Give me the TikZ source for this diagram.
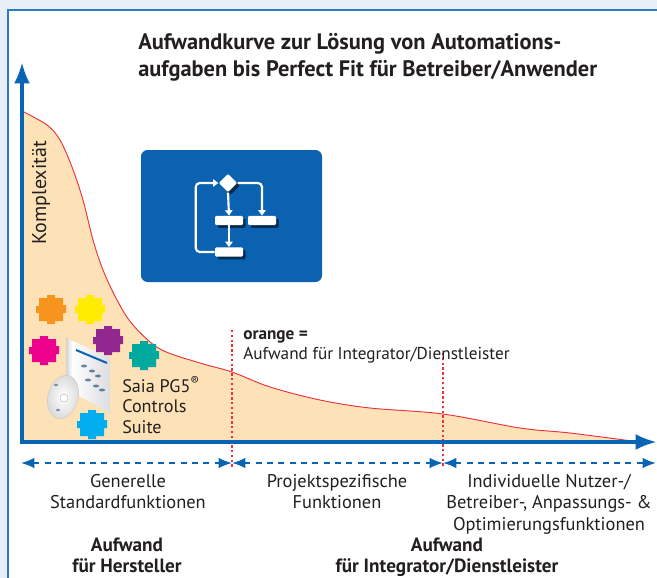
\documentclass[tikz,border=0pt]{standalone}
\usepackage{fontspec}
\setmainfont{PT Sans}
\usepackage{xcolor}
\usetikzlibrary{arrows.meta,positioning,shapes.geometric,calc,shadows}
\definecolor{axisblue}{HTML}{0A64B4}
\definecolor{frameblue}{HTML}{2C7AC6}
\definecolor{paleblue}{HTML}{E7EFF8}
\definecolor{effort}{HTML}{FDE2B8}
\definecolor{curvered}{HTML}{E8323C}
\definecolor{textgrey}{HTML}{231F20}
\definecolor{tileblue}{HTML}{0B62B0}
\definecolor{pzorange}{HTML}{F7941D}
\definecolor{pzyellow}{HTML}{FFEC00}
\definecolor{pzmagenta}{HTML}{EC008C}
\definecolor{pzpurple}{HTML}{92278F}
\definecolor{pzteal}{HTML}{00A99D}
\definecolor{pzcyan}{HTML}{00AEEF}
\tikzset{
akaxis/.style={axisblue,line width=3pt,{Latex[length=16pt,width=12pt]}-{Latex[length=16pt,width=12pt]}},
akspan/.style={axisblue,line width=1.5pt,dash pattern=on 4.5pt off 4pt,{Latex[length=10pt,width=8pt]}-{Latex[length=10pt,width=8pt]}},
akdiv/.style={curvered,line width=0.8pt,dash pattern=on 1.8pt off 1.8pt},
aktext/.style={text=textgrey,inner sep=0pt,align=center,font=\fontsize{13.8}{16.2}\selectfont},
akbold/.style={aktext,font=\fontsize{14.4}{15.4}\selectfont\bfseries},
akstep/.style={rectangle,fill=white,rounded corners=1pt,minimum width=21pt,minimum height=7pt,inner sep=0pt,
  drop shadow={shadow xshift=2pt,shadow yshift=-2pt,opacity=.55,fill=black}},
akdecide/.style={diamond,fill=white,rounded corners=1pt,minimum size=14pt,inner sep=0pt,
  drop shadow={shadow xshift=2pt,shadow yshift=-2pt,opacity=.55,fill=black}},
akflow/.style={white,line width=1.6pt,-{Triangle[length=4pt,width=5.5pt]}},
pics/puzzle/.style={code={
  \fill[#1] (-12,-11) rectangle (12,12)
    (-4,-11) rectangle (4,-14)
    (12,-4) rectangle (15,4)
    (-15,-3) rectangle (-12,4)
    (-4,12) rectangle (4,15);
}}
}
\begin{document}
\begin{tikzpicture}[x=0.75pt,y=-0.75pt]
\useasboundingbox (0,0) rectangle (657,578);
% page and panel
\fill[paleblue] (0,0) rectangle (657,578);
\filldraw[fill=white,draw=frameblue,line width=1.2pt] (8,10) rectangle (680,600);
% effort area under the curve
\fill[effort] (22,442) -- plot[smooth,tension=0.55] coordinates {(22,111) (47,125) (60,140) (72,167) (83,200) (93,240) (103,270) (117,300) (133,325) (160,349) (200,363) (232,372) (270,387) (320,400) (370,408) (443,414) (520,428) (570,433) (632,441)} -- cycle;
\draw[curvered,line width=0.7pt] plot[smooth,tension=0.55] coordinates {(22,111) (47,125) (60,140) (72,167) (83,200) (93,240) (103,270) (117,300) (133,325) (160,349) (200,363) (232,372) (270,387) (320,400) (370,408) (443,414) (520,428) (570,433) (632,441)};
% section borders
\coordinate (divAtop) at (232,330);
\coordinate (divAbot) at (232,468);
\coordinate (divBtop) at (443,353);
\coordinate (divBbot) at (443,468);
\draw[akdiv] (divAtop) -- (divAbot);
\draw[akdiv] (divBtop) -- (divBbot);
% axes
\coordinate (origin) at (22,442);
\coordinate (ytop) at (22,62);
\coordinate (xend) at (657,442);
\draw[akaxis] (ytop) -- (origin) -- (xend);
\node[aktext,rotate=90,font=\fontsize{15}{18}\selectfont] (complexity) at (41,193) {Komplexität};
% title
\node[aktext,anchor=west,align=left,font=\fontsize{16.8}{20.5}\selectfont\bfseries] (title) at (138,57)
  {Aufwandkurve zur Lösung von Automations-\\aufgaben bis Perfect Fit für Betreiber/Anwender};
% flowchart tile
\node[rectangle,rounded corners=5pt,fill=tileblue,minimum width=135.75pt,minimum height=99pt] (tile) at (231.5,216) {};
\node[akdecide] (decide) at (228,183) {};
\node[akstep] (stepA) at (229,220.5) {};
\node[akstep] (stepB) at (262,220.5) {};
\node[akstep] (stepC) at (229,252) {};
\draw[akflow] (decide.south) -- (stepA.north);
\draw[akflow] (stepA.south) -- (stepC.north);
\draw[akflow,rounded corners=3pt] (decide.east) -| (stepB.north);
\draw[akflow,rounded corners=3pt] (stepC.west) -- ++(-19,0) |- (decide.west);
% orange legend
\node[aktext,anchor=west,align=left,font=\fontsize{12.9}{15}\selectfont] (legend) at (243,347)
  {\textbf{orange =}\\Aufwand für Integrator/Dienstleister};
% software package
\shade[left color=gray!35,right color=white] (66,337) -- (72,341) -- (72,392) -- (66,388) -- cycle;
\shade[left color=white,right color=blue!8!gray!25] (72,341) -- (110,357) -- (110,413) -- (72,392) -- cycle;
\draw[axisblue,line width=1.5pt] (76,350) -- (107,363);
\foreach \px/\py in {84/366,92/371,98/376,88/380,96/386,102/390}
  \fill[axisblue!60!black,opacity=.6] (\px,\py) ellipse (3 and 1.5);
\shade[inner color=white,outer color=gray!30,rotate around={-15:(63,397)}] (63,397) ellipse (15 and 22);
\draw[gray!40,rotate around={-15:(63,397)}] (63,397) ellipse (15 and 22);
\filldraw[fill=white,draw=gray!50] (64,398) circle (4);
\fill[axisblue!60!black,opacity=.5] (56,385) ellipse (2 and 1.2) (58,410) ellipse (2 and 1.2);
% puzzle pieces
\pic (pieceOrange) at (51,309) {puzzle=pzorange};
\pic (pieceYellow) at (90,309) {puzzle=pzyellow};
\pic (pieceMagenta) at (44,350) {puzzle=pzmagenta};
\pic (piecePurple) at (108,340) {puzzle=pzpurple};
\pic (pieceTeal) at (144,355) {puzzle=pzteal};
\pic (pieceCyan) at (92,424) {puzzle=pzcyan};
\node[aktext,anchor=west,align=left,font=\fontsize{13.6}{15.5}\selectfont] (suite) at (122,405)
  {Saia PG5\textsuperscript{®}\\Controls\\Suite};
% section spans
\coordinate (spanA) at (21,463);
\coordinate (spanB) at (232,463);
\coordinate (spanC) at (443,463);
\coordinate (spanD) at (656,463);
\draw[akspan] (spanA) -- (spanB);
\draw[akspan] (spanB) -- (spanC);
\draw[akspan] (spanC) -- (spanD);
\node[aktext,anchor=north] (general) at (128,474) {Generelle\\Standardfunktionen};
\node[aktext,anchor=north] (project) at (337,474) {Projektspezifische\\Funktionen};
\node[aktext,anchor=north] (custom) at (549,474) {Individuelle Nutzer-/\\Betreiber-, Anpassungs- \&\\Optimierungsfunktionen};
\node[akbold,anchor=north] (maker) at (127,538) {Aufwand\\für Hersteller};
\node[akbold,anchor=north] (integrator) at (447,538) {Aufwand\\für Integrator/Dienstleister};
\end{tikzpicture}
\end{document}
